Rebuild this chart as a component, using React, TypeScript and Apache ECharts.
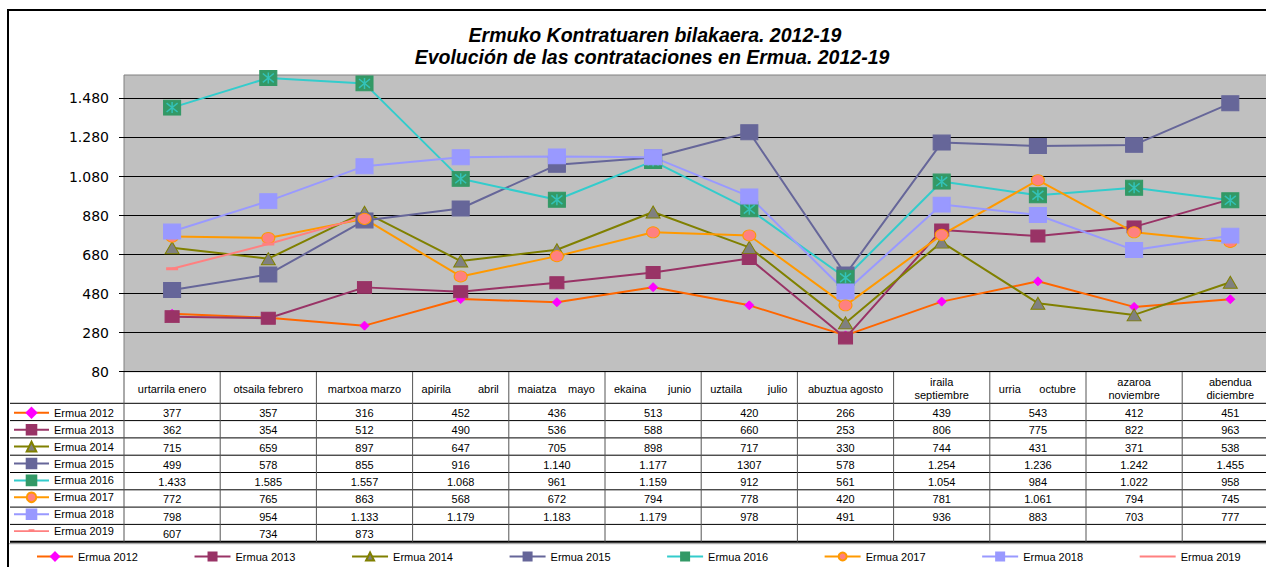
import React, { useEffect, useRef } from 'react';
import * as echarts from 'echarts';

// ---------- data ----------
const titleLine1 = 'Ermuko Kontratuaren bilakaera. 2012-19';
const titleLine2 = 'Evolución de las contrataciones en Ermua. 2012-19';

const monthsEu = ['urtarrila', 'otsaila', 'martxoa', 'apirila', 'maiatza', 'ekaina', 'uztaila', 'abuztua', 'iraila', 'urria', 'azaroa', 'abendua'];
const monthsEs = ['enero', 'febrero', 'marzo', 'abril', 'mayo', 'junio', 'julio', 'agosto', 'septiembre', 'octubre', 'noviembre', 'diciembre'];
const categories = monthsEu.map((m, i) => m + ' ' + monthsEs[i]);

const seriesNames = ['Ermua 2012', 'Ermua 2013', 'Ermua 2014', 'Ermua 2015', 'Ermua 2016', 'Ermua 2017', 'Ermua 2018', 'Ermua 2019'];

const ermua2012 = [377, 357, 316, 452, 436, 513, 420, 266, 439, 543, 412, 451];
const ermua2013 = [362, 354, 512, 490, 536, 588, 660, 253, 806, 775, 822, 963];
const ermua2014 = [715, 659, 897, 647, 705, 898, 717, 330, 744, 431, 371, 538];
const ermua2015 = [499, 578, 855, 916, 1140, 1177, 1307, 578, 1254, 1236, 1242, 1455];
const ermua2016 = [1433, 1585, 1557, 1068, 961, 1159, 912, 561, 1054, 984, 1022, 958];
const ermua2017 = [772, 765, 863, 568, 672, 794, 778, 420, 781, 1061, 794, 745];
const ermua2018 = [798, 954, 1133, 1179, 1183, 1179, 978, 491, 936, 883, 703, 777];
const ermua2019: (number | null)[] = [607, 734, 873, null, null, null, null, null, null, null, null, null];

const allSeries = [ermua2012, ermua2013, ermua2014, ermua2015, ermua2016, ermua2017, ermua2018, ermua2019];

// cells printed without thousands separator in the source table
const plainCells = [[3, 6]];

const yMin = 80;
const yMax = 1600;
const yInterval = 200;

// ---------- layout / style ----------
const CW = 1300;
const CH = 590;
const FONT = "'Liberation Sans', Arial, sans-serif";
const AXIS_FONT = "'DejaVu Sans', sans-serif";
const GRID_LEFT = 124;
const GRID_TOP = 75;
const COL_W = 96.2;
const GRID_W = COL_W * 12;
const GRID_BOTTOM_Y = 371.7;
const HEADER_BOTTOM = 403.3;
const ROW_H = 17.3;

// header layout per column: inline (one centred line), spread (justified), stack (two lines)
const headerMode = ['inline', 'inline', 'inline', 'spread', 'spread', 'spread', 'spread', 'inline', 'stack', 'spread', 'stack', 'stack'];

const lineColors = ['#FF6600', '#993366', '#808000', '#666699', '#33CCCC', '#FF9900', '#9999FF', '#FF8080'];
const markerFill = ['#FF00FF', '#993366', '#808080', '#666699', '#339966', '#FF8080', '#9999FF', '#FF8080'];
const markerBorder = ['#FF00FF', '#993366', '#808000', '#666699', '#339966', '#FF9900', '#9999FF', '#FF8080'];
const markerShape = ['diamond', 'rect', 'triangle', 'rect', 'rect', 'circle', 'rect', 'rect'];
const markerSize: any[] = [9, [14, 12], [14, 12], [17, 15], [17, 15], [13, 11], [17, 15], [8, 2]];

// legend icon for a series without visible markers: a plain line (bbox padded with move-to points)
const plainLineIcon = 'path://M0,0 M0,5 L36,5 L36,7 L0,7 Z M15,4 L21,4 L21,5 L15,5 Z M36,12';

function fmt(v: number, plain: boolean) {
  if (v < 1000 || plain) return String(v);
  return Math.floor(v / 1000) + '.' + String(v % 1000).padStart(3, '0');
}

function makeLegendData(useIcon: boolean) {
  return seriesNames.map((n, s) => {
    if (s !== 7) return { name: n };
    if (useIcon) return { name: n, icon: plainLineIcon, itemStyle: { color: lineColors[s], borderWidth: 0 } };
    return { name: n, itemStyle: { color: 'rgba(0,0,0,0)', borderColor: 'rgba(0,0,0,0)' }, lineStyle: { color: lineColors[s], width: 2, opacity: 1 } };
  });
}

export default function App() {
  const ref = useRef<HTMLDivElement>(null);
  useEffect(() => {
    const chart = echarts.init(ref.current!, undefined, { renderer: 'svg' });

    const colX = (i: number) => GRID_LEFT + COL_W * i;
    const rowY = (k: number) => HEADER_BOTTOM + ROW_H * k;
    const tableBottom = rowY(8);

    const graphics: any[] = [];
    // outer frame
    graphics.push({ type: 'rect', shape: { x: 8, y: 10, width: CW, height: CH }, style: { fill: 'none', stroke: '#000', lineWidth: 2 }, z: 100, silent: true });
    // title
    graphics.push({ type: 'text', x: 655, y: 35, style: { text: titleLine1, font: `italic bold 19.5px ${FONT}`, fill: '#000', align: 'center', verticalAlign: 'middle' }, silent: true });
    graphics.push({ type: 'text', x: 652, y: 57, style: { text: titleLine2, font: `italic bold 19.5px ${FONT}`, fill: '#000', align: 'center', verticalAlign: 'middle' }, silent: true });
    // horizontal table lines
    for (let k = 0; k <= 8; k++) {
      graphics.push({ type: 'line', shape: { x1: 10, y1: rowY(k), x2: CW, y2: rowY(k) }, style: { stroke: '#000', lineWidth: k === 8 ? 2 : 1 }, silent: true });
    }
    graphics.push({ type: 'line', shape: { x1: 8, y1: tableBottom + 2, x2: CW, y2: tableBottom + 2 }, style: { stroke: '#999', lineWidth: 1 }, silent: true });
    // vertical table lines
    for (let i = 0; i <= 12; i++) {
      graphics.push({ type: 'line', shape: { x1: colX(i), y1: GRID_BOTTOM_Y, x2: colX(i), y2: tableBottom }, style: { stroke: '#555', lineWidth: 1 }, silent: true });
    }
    // header texts
    const hFont = `11px ${FONT}`;
    const hMid = (GRID_BOTTOM_Y + HEADER_BOTTOM) / 2 + 1;
    for (let i = 0; i < 12; i++) {
      const x0 = colX(i);
      const mode = headerMode[i];
      if (mode === 'inline') {
        graphics.push({ type: 'text', x: x0 + COL_W / 2, y: hMid, style: { text: categories[i], font: hFont, fill: '#000', align: 'center', verticalAlign: 'middle' }, silent: true });
      } else if (mode === 'spread') {
        graphics.push({ type: 'text', x: x0 + 9, y: hMid, style: { text: monthsEu[i], font: hFont, fill: '#000', align: 'left', verticalAlign: 'middle' }, silent: true });
        graphics.push({ type: 'text', x: x0 + COL_W - 10, y: hMid, style: { text: monthsEs[i], font: hFont, fill: '#000', align: 'right', verticalAlign: 'middle' }, silent: true });
      } else {
        graphics.push({ type: 'text', x: x0 + COL_W / 2, y: hMid - 7, style: { text: monthsEu[i], font: hFont, fill: '#000', align: 'center', verticalAlign: 'middle' }, silent: true });
        graphics.push({ type: 'text', x: x0 + COL_W / 2, y: hMid + 6, style: { text: monthsEs[i], font: hFont, fill: '#000', align: 'center', verticalAlign: 'middle' }, silent: true });
      }
    }
    // data cells
    allSeries.forEach((vals, s) => {
      vals.forEach((v, m) => {
        if (v == null) return;
        const plain = plainCells.some(([a, b]) => a === s && b === m);
        graphics.push({ type: 'text', x: colX(m) + COL_W / 2, y: rowY(s) + ROW_H / 2 + 1, style: { text: fmt(v, plain), font: hFont, fill: '#000', align: 'center', verticalAlign: 'middle' }, silent: true });
      });
    });

    const series: any[] = [];
    allSeries.forEach((vals, s) => {
      series.push({
        name: seriesNames[s],
        type: 'line',
        z: 3,
        data: vals,
        symbol: markerShape[s],
        symbolSize: markerSize[s],
        showSymbol: true,
        connectNulls: false,
        lineStyle: { color: lineColors[s], width: 2 },
        itemStyle: { color: markerFill[s], borderColor: markerBorder[s], borderWidth: 1 },
        emphasis: { disabled: true },
        silent: true,
      });
      if (s === 4) {
        // asterisk overlay on the 2016 markers
        series.push({
          name: 'Ermua 2016 *',
          type: 'scatter',
          z: 3,
          data: vals,
          symbol: 'path://M5,0 L5,10 M1,1 L9,9 M9,1 L1,9',
          symbolSize: [11, 11],
          itemStyle: { color: 'rgba(0,0,0,0)', borderColor: '#33CCCC', borderWidth: 1.5 },
          emphasis: { disabled: true },
          silent: true,
        });
      }
    });

    const option: any = {
      animation: false,
      backgroundColor: '#fff',
      textStyle: { fontFamily: FONT },
      grid: {
        left: GRID_LEFT,
        top: GRID_TOP,
        width: GRID_W,
        height: GRID_BOTTOM_Y - GRID_TOP,
        show: true,
        backgroundColor: '#C0C0C0',
        borderColor: '#808080',
        borderWidth: 1,
        containLabel: false,
      },
      xAxis: {
        type: 'category',
        data: categories,
        boundaryGap: true,
        axisLabel: { show: false },
        axisTick: { show: false },
        axisLine: { show: true, lineStyle: { color: '#000', width: 1 } },
        splitLine: { show: false },
      },
      yAxis: {
        type: 'value',
        min: yMin,
        max: yMax,
        interval: yInterval,
        axisLine: { show: false },
        axisTick: { show: true, length: 5, lineStyle: { color: '#000' } },
        axisLabel: {
          show: true,
          margin: 15,
          color: '#000',
          fontSize: 14,
          fontFamily: AXIS_FONT,
          showMaxLabel: false,
          formatter: (v: number) => fmt(v, false),
        },
        splitLine: { show: true, showMaxLine: false, lineStyle: { color: '#000', width: 1 } },
      },
      legend: [
        {
          orient: 'vertical',
          left: 13,
          top: 407,
          padding: 0,
          itemWidth: 35,
          itemHeight: 12,
          itemGap: ROW_H - 12,
          data: makeLegendData(true),
          selectedMode: false,
          textStyle: { fontSize: 11, color: '#000', fontFamily: FONT },
        },
        {
          orient: 'horizontal',
          left: 36,
          top: 551,
          padding: 0,
          itemWidth: 36,
          itemHeight: 10,
          itemGap: 55.6,
          data: makeLegendData(false),
          selectedMode: false,
          textStyle: { fontSize: 11, color: '#000', fontFamily: FONT },
        },
      ],
      series,
      graphic: graphics,
    };

    chart.setOption(option);
    return () => chart.dispose();
  }, []);

  return (
    <div style={{ position: 'fixed', left: 0, top: 0, width: 1266, height: 567, overflow: 'hidden', background: '#fff' }}>
      <div ref={ref} style={{ position: 'absolute', left: 0, top: 0, width: CW, height: CH }} />
    </div>
  );
}
